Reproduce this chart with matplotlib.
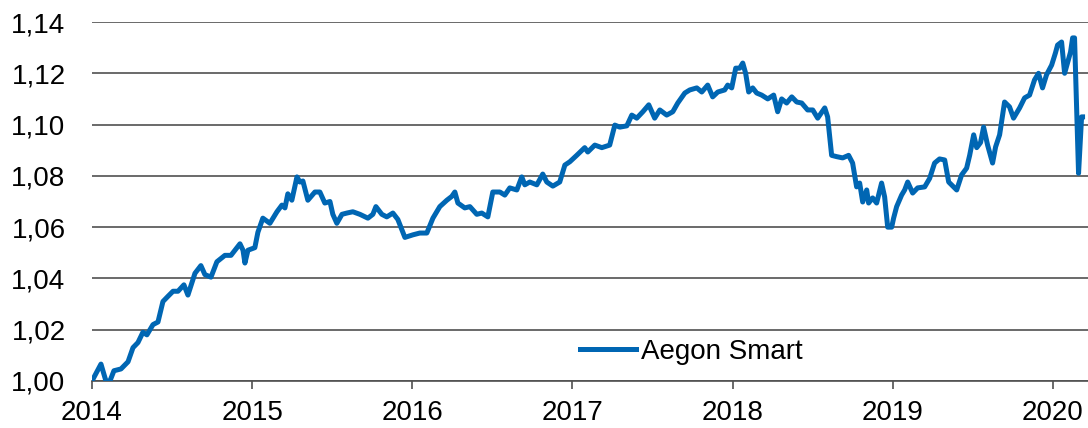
import matplotlib
matplotlib.use("Agg")
import matplotlib.pyplot as plt
from matplotlib.ticker import FuncFormatter

series_name = "Aegon Smart"

dates = [
    2014.000, 2014.056, 2014.087, 2014.112, 2014.137, 2014.181, 2014.225, 2014.256,
    2014.287, 2014.318, 2014.343, 2014.381, 2014.412, 2014.443, 2014.474, 2014.506,
    2014.537, 2014.574, 2014.599, 2014.643, 2014.680, 2014.705, 2014.743, 2014.780,
    2014.830, 2014.868, 2014.924, 2014.943, 2014.955, 2014.974, 2015.017, 2015.036,
    2015.067, 2015.111, 2015.155, 2015.186, 2015.205, 2015.223, 2015.248, 2015.280,
    2015.298, 2015.317, 2015.348, 2015.392, 2015.423, 2015.454, 2015.486, 2015.504,
    2015.529, 2015.561, 2015.592, 2015.629, 2015.673, 2015.723, 2015.754, 2015.773,
    2015.810, 2015.841, 2015.879, 2015.910, 2015.935, 2015.954, 2016.004, 2016.047,
    2016.091, 2016.129, 2016.172, 2016.216, 2016.247, 2016.266, 2016.285, 2016.328,
    2016.360, 2016.403, 2016.434, 2016.472, 2016.503, 2016.547, 2016.578, 2016.609,
    2016.653, 2016.684, 2016.703, 2016.734, 2016.778, 2016.815, 2016.840, 2016.878,
    2016.921, 2016.953, 2016.984, 2017.027, 2017.077, 2017.096, 2017.140, 2017.184,
    2017.233, 2017.265, 2017.296, 2017.340, 2017.371, 2017.402, 2017.440, 2017.477,
    2017.514, 2017.546, 2017.589, 2017.627, 2017.658, 2017.702, 2017.733, 2017.777,
    2017.808, 2017.845, 2017.876, 2017.908, 2017.951, 2017.970, 2017.995, 2018.020,
    2018.045, 2018.064, 2018.082, 2018.101, 2018.126, 2018.151, 2018.182, 2018.220,
    2018.257, 2018.282, 2018.307, 2018.338, 2018.370, 2018.401, 2018.432, 2018.469,
    2018.501, 2018.532, 2018.576, 2018.594, 2018.619, 2018.650, 2018.688, 2018.725,
    2018.750, 2018.775, 2018.794, 2018.813, 2018.838, 2018.850, 2018.875, 2018.900,
    2018.931, 2018.950, 2018.969, 2018.994, 2019.006, 2019.025, 2019.056, 2019.075,
    2019.094, 2019.125, 2019.156, 2019.200, 2019.231, 2019.262, 2019.293, 2019.325,
    2019.350, 2019.400, 2019.431, 2019.462, 2019.481, 2019.506, 2019.525, 2019.549,
    2019.568, 2019.593, 2019.624, 2019.643, 2019.668, 2019.699, 2019.730, 2019.755,
    2019.793, 2019.824, 2019.855, 2019.886, 2019.911, 2019.936, 2019.961, 2019.993,
    2020.017, 2020.030, 2020.055, 2020.074, 2020.092, 2020.111, 2020.124, 2020.136,
    2020.161, 2020.180, 2020.186,
]

values = [
    1.0000, 1.0066, 1.0000, 1.0000, 1.0040, 1.0047, 1.0075, 1.0130,
    1.0150, 1.0190, 1.0180, 1.0220, 1.0230, 1.0310, 1.0330, 1.0350,
    1.0350, 1.0375, 1.0335, 1.0420, 1.0450, 1.0415, 1.0405, 1.0465,
    1.0490, 1.0490, 1.0535, 1.0510, 1.0460, 1.0510, 1.0520, 1.0580,
    1.0635, 1.0615, 1.0660, 1.0686, 1.0675, 1.0730, 1.0705, 1.0796,
    1.0776, 1.0780, 1.0705, 1.0737, 1.0737, 1.0694, 1.0700, 1.0650,
    1.0615, 1.0650, 1.0655, 1.0660, 1.0650, 1.0635, 1.0650, 1.0680,
    1.0650, 1.0640, 1.0655, 1.0630, 1.0590, 1.0560, 1.0570, 1.0577,
    1.0577, 1.0635, 1.0680, 1.0705, 1.0720, 1.0737, 1.0694, 1.0675,
    1.0680, 1.0650, 1.0655, 1.0640, 1.0737, 1.0737, 1.0725, 1.0753,
    1.0745, 1.0796, 1.0765, 1.0776, 1.0765, 1.0807, 1.0776, 1.0760,
    1.0776, 1.0842, 1.0855, 1.0880, 1.0910, 1.0893, 1.0920, 1.0910,
    1.0920, 1.0998, 1.0990, 1.0995, 1.1037, 1.1025, 1.1050, 1.1077,
    1.1025, 1.1057, 1.1037, 1.1050, 1.1084, 1.1123, 1.1135, 1.1143,
    1.1127, 1.1154, 1.1108, 1.1127, 1.1135, 1.1154, 1.1143, 1.1220,
    1.1220, 1.1240, 1.1200, 1.1127, 1.1143, 1.1123, 1.1115, 1.1100,
    1.1115, 1.1050, 1.1100, 1.1084, 1.1108, 1.1088, 1.1084, 1.1057,
    1.1057, 1.1025, 1.1065, 1.1030, 1.0880, 1.0875, 1.0870, 1.0880,
    1.0850, 1.0757, 1.0772, 1.0698, 1.0745, 1.0694, 1.0714, 1.0694,
    1.0772, 1.0718, 1.0600, 1.0600, 1.0635, 1.0680, 1.0725, 1.0745,
    1.0776, 1.0733, 1.0753, 1.0757, 1.0790, 1.0850, 1.0866, 1.0862,
    1.0776, 1.0745, 1.0804, 1.0830, 1.0880, 1.0960, 1.0910, 1.0930,
    1.0990, 1.0920, 1.0850, 1.0913, 1.0960, 1.1088, 1.1069, 1.1025,
    1.1065, 1.1104, 1.1115, 1.1174, 1.1200, 1.1143, 1.1194, 1.1232,
    1.1280, 1.1310, 1.1322, 1.1200, 1.1240, 1.1283, 1.1338, 1.1338,
    1.0810, 1.1030, 1.1030,
]

year_ticks = [2014, 2015, 2016, 2017, 2018, 2019, 2020]
y_ticks = [1.00, 1.02, 1.04, 1.06, 1.08, 1.10, 1.12, 1.14]

plt.rcParams['font.family'] = ['Liberation Sans', 'DejaVu Sans']

fig = plt.figure(figsize=(10.88, 4.28), dpi=100)
ax = fig.add_axes([92 / 1088, 47 / 428, 996 / 1088, 359 / 428])

ax.plot(dates, values, color='#0066B3', lw=3.6, solid_joinstyle='round',
        label=series_name, zorder=3)

ax.set_xlim(2014, 2020.22)
ax.set_ylim(1.00, 1.14)
ax.set_xticks(year_ticks)
ax.set_xticklabels([str(y) for y in year_ticks])
ax.set_yticks(y_ticks)
ax.yaxis.set_major_formatter(FuncFormatter(lambda v, p: f"{v:.2f}".replace('.', ',')))

ax.grid(axis='y', color='#505050', lw=1.2, zorder=1)
ax.set_axisbelow(True)
for s in ['top', 'right', 'left']:
    ax.spines[s].set_visible(False)
ax.spines['bottom'].set_color('#505050')
ax.spines['bottom'].set_linewidth(1.2)

ax.tick_params(axis='x', direction='out', length=6, width=1.2, color='#505050',
               labelsize=20, pad=8, labelcolor='black')
ax.tick_params(axis='y', length=0, labelsize=20, pad=19, labelcolor='black')

leg = ax.legend(loc='center left', bbox_to_anchor=(0.49, 0.081), frameon=False,
                fontsize=20, handlelength=2.0, handletextpad=0.2, borderpad=0,
                borderaxespad=0)

fig.savefig('out.png', dpi=100)
